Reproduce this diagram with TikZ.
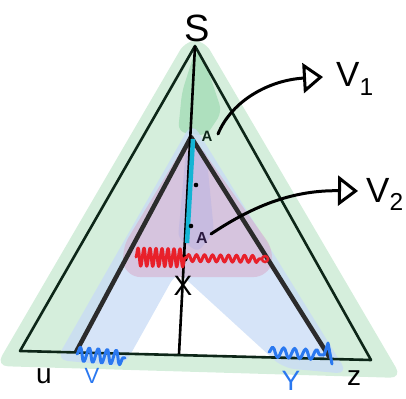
\documentclass[tikz,border=0pt]{standalone}
\usepackage{fontspec}
\setmainfont{Liberation Sans}
\definecolor{ink}{HTML}{0D2618}
\definecolor{innk}{HTML}{2B2B2B}
\definecolor{gband}{HTML}{D5EEDC}
\definecolor{gdark}{HTML}{AEE0BE}
\definecolor{bband}{HTML}{C8DBF6}
\definecolor{pband}{HTML}{D6AFCD}
\definecolor{lav}{HTML}{B9B3E3}
\definecolor{wblue}{HTML}{2A78F0}
\definecolor{wred}{HTML}{E8202A}
\definecolor{cyanl}{HTML}{14B4D4}
\definecolor{tick}{HTML}{2A1A40}
\usetikzlibrary{arrows.meta,decorations.pathmorphing}
\tikzset{
  outer/.style={draw=ink,line width=2.6pt,line join=round},
  innr/.style={draw=innk,line width=4.5pt,line join=round},
  vert/.style={draw=black,line width=2.6pt},
  arr/.style={-{Triangle[open,length=20pt,width=30pt,line width=3pt]},line width=3pt,black,line cap=round},
  scrib/.style={line width=3pt,line cap=round,line join=round,decorate},
  lab/.style={inner sep=0pt,font=\fontsize{28}{28}\selectfont},
  blab/.style={lab,text=wblue}
}

\begin{document}
\begin{tikzpicture}[x=1pt,y=-1pt]
    \useasboundingbox (0,0) rectangle (406,398);
    \coordinate (s) at (195,46);
    \coordinate (u) at (20,351);
    \coordinate (z) at (371,360);
    \coordinate (a) at (191,137);
    \coordinate (l) at (76,352);
    \coordinate (r) at (330,358);
    \coordinate (f) at (179,354);
    \coordinate (c0) at (193,139);
    \coordinate (c1) at (187,243);
    \coordinate (d0) at (196,185);
    \coordinate (d1) at (191,226);
    \coordinate (k) at (184,258);
    \coordinate (w0) at (136,257);
    \coordinate (w1) at (186,258);
    \coordinate (w2) at (261,259);
    \coordinate (e) at (265,259);
    \coordinate (b0) at (77,354);
    \coordinate (b1) at (125,358);
    \coordinate (y0) at (269,352);
    \coordinate (y1) at (324,355);
    \coordinate (y2) at (328,343);
    \coordinate (y3) at (332,364);
    \coordinate (m1) at (218,134);
    \coordinate (m2) at (211,234);
    \coordinate (t1) at (323,77);
    \coordinate (t2) at (358,191);

    \fill[gband,even odd rule] [rounded corners=12] (186,40) -- (-4,366) -- (402,378) -- (204,40) -- cycle
          [sharp corners] (a) -- (l) -- (r) -- cycle;
    \fill[gdark,rounded corners=8] (196,48) -- (182,92) -- (178,132) -- (206,136) -- (222,112) -- (208,70) -- cycle;
    \fill[bband,opacity=.75,rounded corners=12] (192,122) -- (56,360) -- (124,366) -- (177,271)
          -- (283,368) -- (348,374) -- cycle;
    \fill[pband,opacity=.6,rounded corners=14] (191,134) -- (121,250) -- (126,277) -- (268,277) -- (275,252) -- cycle;
    \fill[lav,opacity=.5,rounded corners=6] (186,150) -- (178,238) -- (198,252) -- (214,232) -- (206,150) -- cycle;

    \draw[outer] (s) -- (u) -- (z) -- cycle;
    \draw[innr] (l) -- (a) -- (r);
    \draw[vert] (s) -- (f);
    \draw[cyanl,line width=4.5pt] (c0) -- (c1);
    \fill (d0) circle (2.3);
    \fill (d1) circle (2.3);
    \fill (k) circle (4);

    \draw[scrib,wred,decoration={snake,amplitude=9pt,segment length=6pt}] (w0) -- (w1);
    \draw[scrib,wred,decoration={snake,amplitude=3.5pt,segment length=8pt}] (w1) -- (w2);
    \draw[wred,line width=2.5pt] (e) circle (3);
    \draw[scrib,wblue,decoration={snake,amplitude=7pt,segment length=9pt}] (b0) -- (b1);
    \draw[scrib,wblue,decoration={snake,amplitude=5pt,segment length=11pt}] (y0) -- (y1);
    \draw[wblue,line width=3pt,line cap=round,line join=round] (y1) -- (y2) -- (y3);

    \draw[arr] (m1) .. controls (232,100) and (270,80) .. (t1);
    \draw[arr] (m2) .. controls (250,208) and (290,190) .. (t2);

    \node[lab,anchor=base,font=\fontsize{38}{38}\selectfont] (sl) at (197,42) {S};
    \node[lab,anchor=base west,font=\fontsize{35}{35}\selectfont] (v1) at (336,87) {V\textsubscript{1}};
    \node[lab,anchor=base west,font=\fontsize{35}{35}\selectfont] (v2) at (366,202) {V\textsubscript{2}};
    \node[lab,anchor=base,text=ink,font=\fontsize{15}{15}\bfseries] (k1) at (207,142) {A};
    \node[lab,anchor=base,text=tick,font=\fontsize{16}{16}\bfseries] (k2) at (202,243) {A};
    \node[lab,anchor=base] (xl) at (183,295) {X};
    \node[lab,anchor=base] (ul) at (44,383) {u};
    \node[lab,anchor=base] (zl) at (354,385) {z};
    \node[blab,anchor=base,font=\fontsize{22}{22}\selectfont] (vl) at (92,383) {V};
    \node[blab,anchor=base,font=\fontsize{28}{28}\selectfont] (yl) at (291,390) {Y};
\end{tikzpicture}
\end{document}
